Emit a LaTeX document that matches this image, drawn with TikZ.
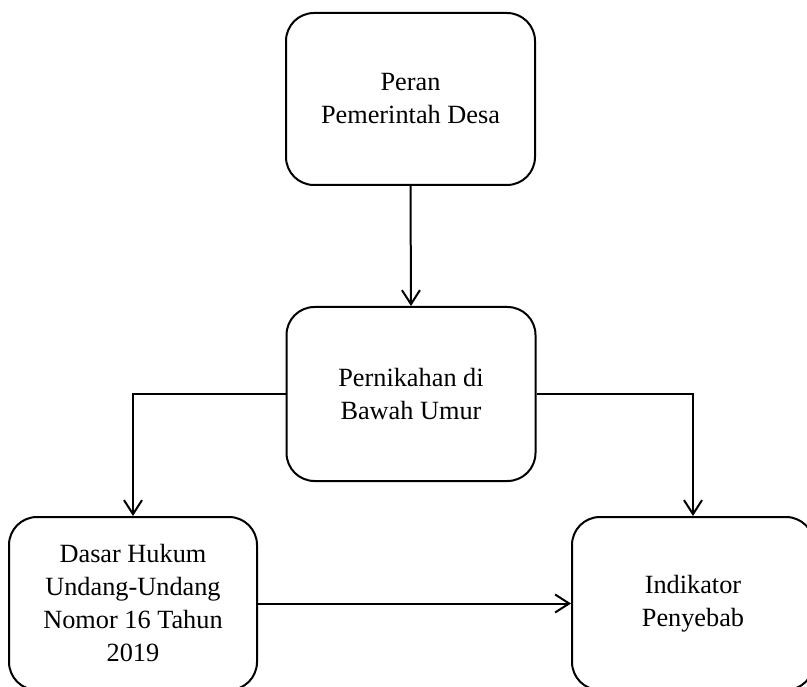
\documentclass[tikz,border=0pt]{standalone}
\usepackage{fontspec}
\setmainfont{Liberation Serif}
\usetikzlibrary{arrows.meta}
\begin{document}
\begin{tikzpicture}[x=1pt,y=-1pt,
  box/.style={draw, line width=2pt, rounded corners=28pt, align=center, inner sep=0pt,
    font=\fontsize{26.3}{33}\selectfont},
  conn/.style={line width=2pt, -{Straight Barb[length=14pt,width=18pt,line width=2pt]}}]
\useasboundingbox (0,0) rectangle (807,687);
\node[box, minimum width=249pt, minimum height=172pt] (peran) at (410.5,99) {Peran\\Pemerintah Desa};
\node[box, minimum width=249pt, minimum height=174pt] (nikah) at (411,394) {Pernikahan di\\Bawah Umur};
\node[box, minimum width=248pt, minimum height=173pt] (dasar) at (133,603.5) {Dasar Hukum\\Undang-Undang\\Nomor 16 Tahun\\2019};
\node[box, minimum width=242pt, minimum height=173pt] (indikator) at (693,603.5) {Indikator\\Penyebab};
\draw[conn] (peran.south) -- (nikah.north);
\draw[conn] (nikah.west) -| (dasar.north);
\draw[conn] (nikah.east) -| (indikator.north);
\draw[conn] (dasar.east) -- (indikator.west);
\end{tikzpicture}
\end{document}
